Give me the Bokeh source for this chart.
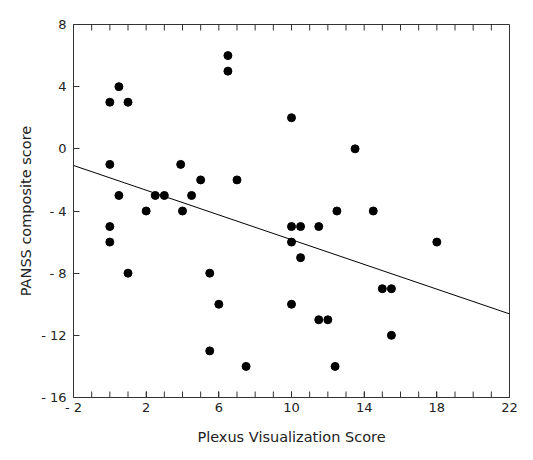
from bokeh.plotting import figure
from bokeh.models import FixedTicker, Range1d
from bokeh.embed import file_html
from bokeh.resources import INLINE

# Plexus Visualization Score (x) and PANSS composite score (y)
plexus = [0, 0.5, 1, 0, 0.5, 0, 0, 1, 2, 2.5, 3, 3.9, 4, 4.5, 5, 5.5, 5.5, 6,
          6.5, 6.5, 7, 7.5, 10, 10, 10.5, 10, 10.5, 10, 11.5, 11.5, 12, 12.5,
          12.4, 13.5, 14.5, 15, 15.5, 15.5, 18]
panss = [3, 4, 3, -1, -3, -5, -6, -8, -4, -3, -3, -1, -4, -3, -2, -8, -13, -10,
         6, 5, -2, -14, 2, -5, -5, -6, -7, -10, -5, -11, -11, -4,
         -14, 0, -4, -9, -9, -12, -6]

# regression line endpoints
fit_x = [-2, 22]
fit_y = [-1.07, -10.62]

x_lo, x_hi = -2, 22
y_lo, y_hi = -16, 8
x_ticks = [-2, 2, 6, 10, 14, 18, 22]
x_minor = list(range(-2, 23))
y_ticks = [-16, -12, -8, -4, 0, 4, 8]
x_labels = {-2: "- 2"}
y_labels = {-4: "- 4", -8: "- 8", -12: "- 12", -16: "- 16"}

FONT = "DejaVu Sans"
TXT = "#222222"
LINE = "#333333"

W, H = 525, 452
MB_L, MB_R, MB_T, MB_B = 73, 16, 24, 55
p = figure(width=W, height=H, output_backend="svg", toolbar_location=None,
           x_range=Range1d(x_lo, x_hi), y_range=Range1d(y_lo, y_hi),
           min_border_left=MB_L, min_border_right=MB_R, min_border_top=MB_T,
           min_border_bottom=MB_B)
p.grid.visible = False
p.outline_line_color = LINE
p.outline_line_width = 1

bottom = p.below[0]
left = p.left[0]
bottom.ticker = FixedTicker(ticks=x_ticks, minor_ticks=[])
left.ticker = FixedTicker(ticks=y_ticks, minor_ticks=[])
bottom.major_label_overrides = x_labels
left.major_label_overrides = y_labels
bottom.axis_label = "Plexus Visualization Score"
left.axis_label = "PANSS composite score"

for ax in [bottom, left]:
    ax.axis_line_color = LINE
    ax.major_tick_line_color = LINE
    ax.major_tick_in = 6
    ax.major_tick_out = 0
    ax.major_label_text_font = FONT
    ax.major_label_text_font_size = "13px"
    ax.major_label_text_color = TXT
    ax.axis_label_text_font = FONT
    ax.axis_label_text_font_size = "14.5px"
    ax.axis_label_text_font_style = "normal"
    ax.axis_label_text_color = TXT

bottom.major_label_standoff = 2
left.major_label_standoff = 7
bottom.axis_label_standoff = 11
left.axis_label_standoff = 4

# inward unit ticks along the top and bottom edges of the frame (6 px long)
frame_h = H - MB_T - MB_B
tick_len = 6 * (y_hi - y_lo) / frame_h
n = len(x_minor)
p.segment(x0=x_minor, x1=x_minor, y0=[y_lo] * n, y1=[y_lo + tick_len] * n,
          line_color=LINE, line_width=1)
p.segment(x0=x_minor, x1=x_minor, y0=[y_hi] * n, y1=[y_hi - tick_len] * n,
          line_color=LINE, line_width=1)

p.line(fit_x, fit_y, line_color="black", line_width=1)
p.scatter(plexus, panss, size=8, color="black")

open("out.html", "w").write(file_html(p, INLINE))
